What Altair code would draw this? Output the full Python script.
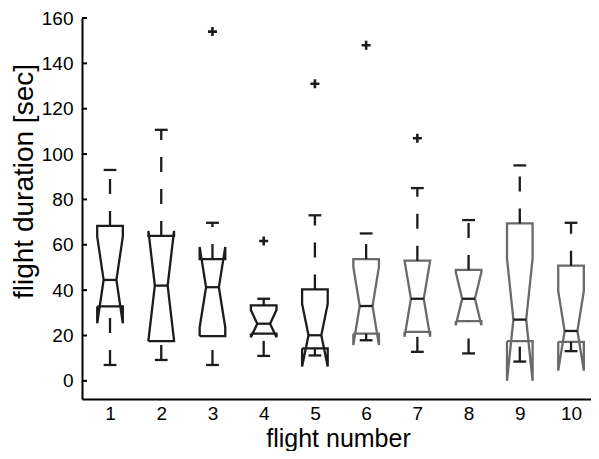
import altair as alt
import pandas as pd

# ---- data ----
flights = [1, 2, 3, 4, 5, 6, 7, 8, 9, 10]
group = ["dark"] * 5 + ["gray"] * 5
q1 = [32.8, 17.5, 19.7, 20.8, 14.3, 20.8, 21.6, 26.3, 17.5, 17.2]
median = [44.5, 42.0, 41.3, 25.2, 20.1, 33.0, 36.2, 36.2, 27.0, 22.0]
q3 = [68.3, 63.9, 53.7, 33.3, 40.3, 53.7, 53.0, 48.9, 69.4, 50.8]
notch_lo = [25.4, 17.9, 23.6, 19.2, 6.3, 15.8, 19.4, 24.5, 0.0, 4.5]
notch_hi = [63.6, 66.1, 59.0, 31.2, 33.9, 50.2, 53.0, 47.9, 54.0, 39.5]
whisk_lo = [7.0, 9.2, 7.0, 11.0, 11.2, 17.9, 12.8, 12.1, 8.5, 13.1]
whisk_hi = [93.0, 110.7, 69.7, 36.2, 73.0, 65.0, 85.0, 70.9, 95.0, 69.7]
outlier_flight = [3, 4, 5, 6, 7]
outlier_value = [154.0, 61.7, 131.0, 148.0, 107.0]
y_ticks = [0, 20, 40, 60, 80, 100, 120, 140, 160]

W = 0.25  # half box width (x units)
FONT = "Liberation Sans"
DARK = "#1c1c1c"
GRAY = "#6a6a6a"

# ---- notched box outlines ----
rows = []
for i, f in enumerate(flights):
    pts = [
        (f - W, q1[i]), (f - W, notch_lo[i]), (f - W / 2, median[i]),
        (f - W, notch_hi[i]), (f - W, q3[i]), (f + W, q3[i]),
        (f + W, notch_hi[i]), (f + W / 2, median[i]), (f + W, notch_lo[i]),
        (f + W, q1[i]), (f - W, q1[i]),
    ]
    for k, (px, py) in enumerate(pts):
        rows.append({"flight": f, "grp": group[i], "k": k, "px": px, "py": py})
box_df = pd.DataFrame(rows)

stats = pd.DataFrame({
    "flight": flights, "q1": q1, "median": median, "q3": q3,
    "wlo": whisk_lo, "whi": whisk_hi,
})
stats["mx1"] = stats["flight"] - W / 2
stats["mx2"] = stats["flight"] + W / 2

out_df = pd.DataFrame({"flight": outlier_flight, "value": outlier_value})
tick_df = pd.DataFrame({"t": y_ticks})

xs = alt.Scale(domain=[0.453, 10.39], nice=False, zero=False)
ys = alt.Scale(domain=[-8, 160], nice=False, zero=False)

common = dict(
    domainColor="black", domainWidth=2, labelColor="black", labelFont=FONT,
    labelFontSize=19, titleFont=FONT, titleFontWeight="normal",
    titleColor="black", ticks=False, grid=False, format="d",
)

x_axis = alt.Axis(
    values=flights, title="flight number", labelPadding=5, titleFontSize=25,
    titleX=256, titleY=47, titleBaseline="alphabetic", titleAlign="center",
    titleAnchor="start", **common,
)
y_axis = alt.Axis(
    values=y_ticks, title="flight duration [sec]", labelPadding=9, titleFontSize=28,
    titleX=-50, titleY=163, titleBaseline="alphabetic", titleAlign="center",
    titleAngle=-90, titleAnchor="start", **common,
)

boxes = alt.Chart(box_df).mark_line(strokeWidth=2.3, strokeJoin="miter", strokeCap="butt").encode(
    x=alt.X("px:Q", scale=xs, axis=x_axis),
    y=alt.Y("py:Q", scale=ys, axis=y_axis),
    order="k:Q",
    detail="flight:N",
    color=alt.Color("grp:N", scale=alt.Scale(domain=["dark", "gray"], range=[DARK, GRAY]), legend=None),
)

base = alt.Chart(stats)

medians = base.mark_rule(strokeWidth=2.3, color=DARK).encode(
    x=alt.X("mx1:Q", scale=xs), x2="mx2:Q", y=alt.Y("median:Q", scale=ys)
)
upper_wh = base.mark_rule(strokeWidth=2.3, color=DARK, strokeDash=[15, 17]).encode(
    x=alt.X("flight:Q", scale=xs), y=alt.Y("q3:Q", scale=ys), y2="whi:Q"
)
lower_wh = base.mark_rule(strokeWidth=2.3, color=DARK, strokeDash=[15, 17]).encode(
    x=alt.X("flight:Q", scale=xs), y=alt.Y("wlo:Q", scale=ys), y2="q1:Q"
)
cap_hi = base.mark_rule(strokeWidth=2.3, color=DARK).encode(
    x=alt.X("mx1:Q", scale=xs), x2="mx2:Q", y=alt.Y("whi:Q", scale=ys)
)
cap_lo = base.mark_rule(strokeWidth=2.3, color=DARK).encode(
    x=alt.X("mx1:Q", scale=xs), x2="mx2:Q", y=alt.Y("wlo:Q", scale=ys)
)
outliers = alt.Chart(out_df).mark_point(
    shape="M-1,0L1,0M0,-1L0,1", filled=False, strokeWidth=2.6, size=81, color=DARK, opacity=1
).encode(x=alt.X("flight:Q", scale=xs), y=alt.Y("value:Q", scale=ys))

yticks = alt.Chart(tick_df).mark_rule(strokeWidth=2, color="black").encode(
    x=alt.value(0), x2=alt.value(5), y=alt.Y("t:Q", scale=ys)
)

chart = alt.layer(boxes, medians, upper_wh, lower_wh, cap_hi, cap_lo, outliers, yticks).properties(
    width=509, height=381,
    autosize=alt.AutoSizeParams(type="none"),
    padding={"left": 74, "top": 10, "right": 0, "bottom": 52},
    background="white",
).configure_view(stroke=None)

chart.save("out.html", embed_options={"renderer": "svg", "actions": False})
